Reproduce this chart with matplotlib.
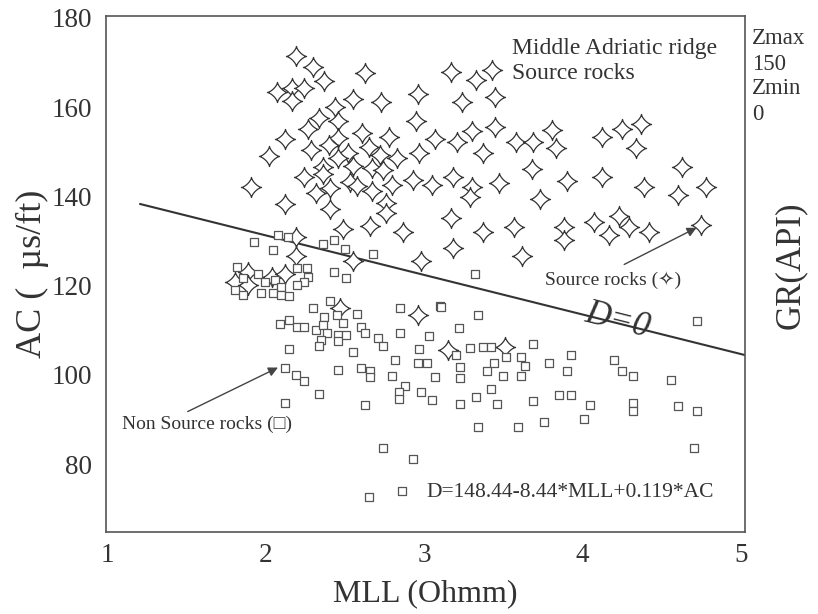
import matplotlib.pyplot as plt
import numpy as np
from matplotlib.path import Path

plt.rcParams['font.family'] = ['Liberation Serif', 'DejaVu Serif', 'DejaVu Sans']

# source rocks (stars)
star_mll = [2.19, 2.30, 2.37, 2.63, 3.17, 3.33, 3.43, 2.07, 2.17, 2.24,
            2.17, 2.44, 2.55, 2.73, 2.96, 3.24, 3.45, 2.34, 2.46, 2.95,
            2.27, 2.12, 2.61, 2.78, 3.07, 2.46, 2.40, 2.29, 2.02, 2.52,
            2.65, 2.72, 2.83, 2.97, 2.46, 2.55, 2.36, 2.67, 2.74, 2.36,
            2.24, 1.91, 2.53, 2.58, 2.41, 2.67, 2.80, 2.93, 3.05, 2.32,
            2.12, 2.41, 2.76, 2.76, 2.49, 2.66, 2.87, 2.98, 2.19, 2.19,
            2.55, 1.81, 1.89, 1.89, 2.04, 2.12, 3.30, 3.45, 3.21, 3.37,
            3.58, 3.69, 3.81, 3.83, 4.12, 4.25, 4.37, 4.34, 3.68, 3.18,
            3.30, 3.29, 3.47, 3.90, 4.12, 3.73, 4.39, 4.63, 4.60, 4.78,
            3.17, 3.37, 3.57, 3.88, 3.88, 4.07, 4.23, 4.17, 4.29, 4.42,
            4.75, 3.18, 3.62, 2.47, 2.96, 3.15, 3.51]
star_ac = [171.5, 169.0, 165.9, 167.7, 167.9, 166.1, 168.3, 163.4, 164.3, 164.3,
           161.4, 160.0, 161.8, 161.2, 163.0, 161.2, 162.3, 157.6, 156.9, 156.9,
           155.1, 152.9, 154.2, 153.3, 152.9, 153.1, 151.5, 150.4, 149.1, 149.7,
           151.1, 149.3, 148.6, 149.7, 148.6, 146.8, 146.6, 146.4, 145.9, 145.0,
           144.4, 142.1, 143.2, 142.3, 141.9, 141.2, 142.6, 143.7, 142.6, 140.8,
           138.3, 137.2, 138.5, 136.3, 132.7, 133.4, 132.0, 125.5, 130.9, 126.6,
           125.5, 120.8, 123.0, 120.1, 121.9, 122.6, 154.7, 155.6, 152.2, 149.7,
           152.2, 152.2, 154.9, 150.9, 153.3, 155.1, 156.2, 150.9, 146.1, 144.4,
           142.1, 139.9, 143.0, 143.5, 144.4, 139.4, 142.1, 146.6, 140.3, 142.1,
           135.2, 132.0, 133.1, 133.1, 130.2, 134.3, 135.6, 131.3, 133.1, 132.0,
           133.6, 128.4, 126.6, 115.0, 113.4, 105.6, 106.2]

# non source rocks (squares)
sq_mll = [1.93, 2.05, 2.08, 2.14, 2.36, 2.43, 2.50, 2.68, 2.43, 2.51,
          1.82, 1.86, 1.95, 2.00, 2.06, 2.20, 2.26, 2.27, 2.24, 2.20,
          2.10, 1.81, 1.86, 1.97, 2.05, 2.10, 2.15, 2.30, 2.41, 2.37,
          2.45, 2.49, 2.58, 2.09, 2.15, 2.20, 2.24, 2.32, 2.36, 2.39,
          2.35, 2.34, 2.46, 2.46, 2.51, 2.60, 2.63, 2.71, 2.74, 2.55,
          2.85, 2.85, 3.03, 2.97, 2.82, 2.96, 3.02, 3.10, 3.07, 2.15,
          2.12, 2.19, 2.24, 2.46, 2.60, 2.66, 2.66, 2.80, 2.88, 2.84,
          2.84, 2.98, 3.05, 2.34, 2.12, 2.63, 2.74, 2.93, 2.65, 2.86,
          3.32, 3.11, 3.34, 3.22, 4.72, 3.20, 3.29, 3.37, 3.42, 3.69,
          3.52, 3.61, 3.64, 3.44, 3.40, 3.23, 3.23, 3.79, 3.93, 3.90,
          4.20, 4.25, 4.32, 4.56, 3.50, 3.61, 3.42, 3.33, 3.23, 3.46,
          3.69, 3.85, 3.93, 4.05, 4.32, 4.32, 4.60, 4.72, 3.34, 3.59,
          3.76, 4.01, 4.70]
sq_ac = [129.8, 128.0, 131.3, 130.9, 129.3, 130.2, 128.2, 127.1, 123.0, 121.7,
         124.2, 121.7, 122.6, 120.8, 121.3, 123.9, 123.9, 121.9, 120.8, 120.1,
         119.7, 119.0, 117.9, 118.3, 118.3, 117.9, 117.7, 115.0, 116.5, 113.0,
         113.4, 111.6, 113.6, 111.4, 112.3, 110.7, 110.7, 110.0, 111.2, 109.4,
         107.8, 106.5, 108.9, 107.6, 108.9, 110.7, 109.4, 108.3, 106.5, 105.1,
         115.0, 109.4, 108.7, 105.8, 103.3, 102.6, 102.6, 115.4, 99.5, 105.8,
         101.5, 100.0, 98.6, 101.1, 101.5, 100.9, 99.5, 99.7, 97.5, 96.1,
         94.6, 96.1, 94.3, 95.7, 93.7, 93.2, 83.6, 81.1, 72.6, 73.9,
         122.6, 115.2, 113.4, 110.5, 112.1, 104.4, 106.0, 106.2, 106.2, 106.9,
         104.0, 104.0, 102.0, 102.6, 100.9, 101.7, 99.3, 102.6, 104.4, 100.9,
         103.3, 100.9, 99.7, 98.8, 99.7, 99.7, 96.8, 95.0, 93.5, 93.5,
         94.1, 95.5, 95.5, 93.2, 93.7, 91.9, 93.0, 91.9, 88.3, 88.3,
         89.4, 90.1, 83.6]

# discriminant line D=0
line_mll = [1.21, 5.03]
line_ac = [138.3, 104.4]

x_ticks = [1, 2, 3, 4, 5]
y_ticks = [80, 100, 120, 140, 160, 180]

# four pointed star marker (concave sides)
t = np.linspace(0, 2 * np.pi, 161)
p = 2.8
sx = np.sign(np.cos(t)) * np.abs(np.cos(t)) ** p
sy = np.sign(np.sin(t)) * np.abs(np.sin(t)) ** p
star = Path(np.column_stack([sx, sy]), closed=True)

fig = plt.figure(figsize=(8.18, 6.14), dpi=100)
ax = fig.add_axes([0.1296, 0.1336, 0.7812, 0.8404])

ax.plot(line_mll, line_ac, color='#333333', lw=1.5, zorder=2)
ax.scatter(star_mll, star_ac, marker=star, s=210, facecolors='white',
           edgecolors='#333333', linewidths=0.9, zorder=3)
ax.scatter(sq_mll, sq_ac, marker='s', s=40, facecolors='white',
           edgecolors='#555555', linewidths=0.9, zorder=4)

ax.set_xlim(0.994, 5.025)
ax.set_ylim(64.8, 180.45)
ax.set_xticks(x_ticks)
ax.set_yticks(y_ticks)
ax.tick_params(length=0, labelsize=19.5, colors='#333333')
ax.tick_params(axis='x', pad=8)
ax.tick_params(axis='y', pad=10)
for sp in ax.spines.values():
    sp.set_color('#555555')
    sp.set_linewidth(1.2)

ax.set_xlabel('MLL (Ohmm)', fontsize=23, color='#333333', labelpad=8)
ax.set_ylabel('AC (  µs/ft)', fontsize=26, color='#333333', labelpad=2)

tc = '#333333'
ax.text(0.635, 0.936, 'Middle Adriatic ridge', transform=ax.transAxes,
        fontsize=17, color=tc, va='center')
ax.text(0.635, 0.889, 'Source rocks', transform=ax.transAxes,
        fontsize=17, color=tc, va='center')
ax.text(0.687, 0.488, 'Source rocks (✧)', transform=ax.transAxes,
        fontsize=14, color=tc, va='center')
ax.annotate('', xy=(0.928, 0.592), xytext=(0.807, 0.516),
            xycoords='axes fraction', textcoords='axes fraction',
            arrowprops=dict(arrowstyle='-|>', color='#444444', lw=1,
                            mutation_scale=14))
ax.text(0.80, 0.41, 'D=0', transform=ax.transAxes, fontsize=25,
        style='italic', color=tc, rotation=-14, ha='center', va='center')
ax.text(0.025, 0.209, 'Non Source rocks (□)', transform=ax.transAxes,
        fontsize=14, color=tc, va='center')
ax.annotate('', xy=(0.273, 0.321), xytext=(0.124, 0.231),
            xycoords='axes fraction', textcoords='axes fraction',
            arrowprops=dict(arrowstyle='-|>', color='#444444', lw=1,
                            mutation_scale=14))
ax.text(0.502, 0.0756, 'D=148.44-8.44*MLL+0.119*AC', transform=ax.transAxes,
        fontsize=15.5, color=tc, va='center')

for txt, y in [('Zmax', 0.938), ('150', 0.895), ('Zmin', 0.856), ('0', 0.814)]:
    fig.text(0.919, y, txt, fontsize=16.5, color=tc, va='center')
fig.text(0.966, 0.568, 'GR(API)', fontsize=25, color=tc, rotation=90,
         ha='center', va='center')

fig.savefig('out.png', dpi=100)
